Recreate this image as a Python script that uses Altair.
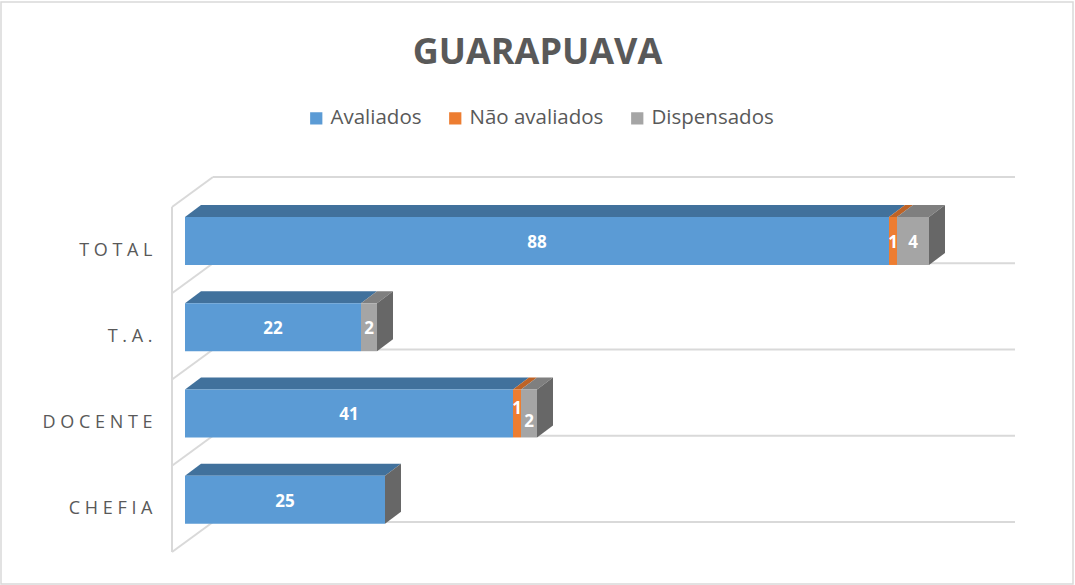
import json
import pandas as pd
import altair as alt

# ---- data ----
categories = ["TOTAL", "T.A.", "DOCENTE", "CHEFIA"]
series = ["Avaliados", "Não avaliados", "Dispensados"]
avaliados = [88, 22, 41, 25]
nao_avaliados = [1, 0, 1, 0]
dispensados = [4, 2, 2, 0]

# ---- styles ----
front_colors = ["#5B9BD5", "#ED7D31", "#A5A5A5"]
top_colors = ["#41719C", "#BE6326", "#7F7F7F"]
side_color = "#676767"
grid_color = "#D9D9D9"
text_color = "#595959"
FONT = "Open Sans"

# 3D geometry (in scale units: x = value units, y = category bands)
FRONT_TOP, FRONT_BOT = 0.116, 0.672
DEPTH_X, DEPTH_Y = 2.0, 0.139
WALL_X, WALL_DX, WALL_DY = -1.625, 5.125, 0.348
X_MAX = 103.75
CROWD = 2.0      # label centres closer than this (value units) are staggered
STAGGER = 0.08   # vertical stagger in band units

seg_rows, top_rows, side_rows = [], [], []
for i, cat in enumerate(categories):
    start = 0
    for s, vals in zip(series, [avaliados, nao_avaliados, dispensados]):
        v = vals[i]
        end = start + v
        seg_rows.append(dict(cat=cat, series=s, start=start, end=end,
                             yt=i + FRONT_TOP, yb=i + FRONT_BOT, value=v,
                             mid=(start + end) / 2,
                             ym=i + (FRONT_TOP + FRONT_BOT) / 2, shift=0))
        sid = f"{i}-{s}"
        top_rows.append(dict(seg=sid, series=s, y=i + FRONT_TOP, xl=start, xr=end))
        top_rows.append(dict(seg=sid, series=s, y=i + FRONT_TOP - DEPTH_Y,
                             xl=start + DEPTH_X, xr=end + DEPTH_X))
        start = end
    side_rows.append(dict(cat=cat, x=start, ya=i + FRONT_TOP, yb=i + FRONT_BOT))
    side_rows.append(dict(cat=cat, x=start + DEPTH_X, ya=i + FRONT_TOP - DEPTH_Y,
                          yb=i + FRONT_BOT - DEPTH_Y))

# stagger labels that would touch each other
for cat in categories:
    row = [r for r in seg_rows if r["cat"] == cat and r["value"] > 0]
    for a, b in zip(row, row[1:]):
        if b["mid"] - a["mid"] < CROWD:
            a["shift"], b["shift"] = -1, 1

n = len(categories)
grid_rows = []
for k in range(n + 1):
    grid_rows.append(dict(x=WALL_X + WALL_DX, x2=X_MAX, y=k - WALL_DY, y2=k - WALL_DY))
    grid_rows.append(dict(x=WALL_X, x2=WALL_X + WALL_DX, y=k, y2=k - WALL_DY))
grid_rows.append(dict(x=WALL_X, x2=WALL_X, y=0, y2=n))

segs = pd.DataFrame(seg_rows)
tops = pd.DataFrame(top_rows)
sides = pd.DataFrame(side_rows)
grid = pd.DataFrame(grid_rows)
labels = segs[segs["value"] > 0]

x_scale = alt.Scale(domain=[WALL_X, X_MAX], nice=False, zero=False)
y_scale = alt.Scale(domain=[-WALL_DY, n], nice=False, zero=False, reverse=True)

label_expr = "join(split(" + json.dumps(categories) + "[floor(datum.value)], ''), ' ')"
y_axis = alt.Axis(values=[i + 0.5 for i in range(n)], labelExpr=label_expr,
                  domain=False, ticks=False, grid=False, title=None,
                  labelFont=FONT, labelFontSize=18, labelColor=text_color,
                  labelPadding=20)

border = alt.Chart(alt.Data(values=[{}])).mark_rect(
    filled=False, stroke=grid_color, strokeWidth=1.5
).encode(x=alt.value(-171), x2=alt.value(901), y=alt.value(-175), y2=alt.value(407))

grid_layer = alt.Chart(grid).mark_rule(color=grid_color, strokeWidth=2).encode(
    x=alt.X("x:Q", scale=x_scale, axis=None),
    x2="x2:Q",
    y=alt.Y("y:Q", scale=y_scale, axis=y_axis),
    y2="y2:Q",
)

top_layers = []
for s, c in zip(series, top_colors):
    top_layers.append(
        alt.Chart(tops).transform_filter(alt.datum.series == s)
        .mark_area(orient="horizontal", color=c).encode(
            y=alt.Y("y:Q", scale=y_scale, axis=y_axis),
            x=alt.X("xl:Q", scale=x_scale, axis=None, stack=False),
            x2="xr:Q",
            detail="seg:N",
        )
    )

side_layer = alt.Chart(sides).mark_area(orient="vertical", color=side_color).encode(
    x=alt.X("x:Q", scale=x_scale, axis=None),
    y=alt.Y("ya:Q", scale=y_scale, axis=y_axis, stack=False),
    y2="yb:Q",
    detail="cat:N",
)

front_layer = alt.Chart(segs).mark_rect().encode(
    x=alt.X("start:Q", scale=x_scale, axis=None),
    x2="end:Q",
    y=alt.Y("yt:Q", scale=y_scale, axis=y_axis),
    y2="yb:Q",
    color=alt.Color(
        "series:N",
        scale=alt.Scale(domain=series, range=front_colors),
        legend=alt.Legend(
            orient="none", legendX=134, legendY=-69, direction="horizontal",
            title=None, symbolType="square", symbolSize=150, symbolStrokeWidth=0,
            labelFont=FONT, labelFontSize=20.5, labelColor=text_color,
            columnPadding=23, labelOffset=4, padding=0,
        ),
    ),
)

label_layer = alt.Chart(labels).transform_calculate(
    ylab=f"datum.ym + datum.shift * {STAGGER}"
).mark_text(
    color="white", font=FONT, fontSize=17, fontWeight="bold", baseline="middle", dy=2
).encode(
    x=alt.X("mid:Q", scale=x_scale, axis=None),
    y=alt.Y("ylab:Q", scale=y_scale, axis=y_axis),
    text="value:Q",
)

chart = alt.layer(
    border, grid_layer, *top_layers, side_layer, front_layer, label_layer
).properties(
    width=843,
    height=375,
    padding={"left": 172, "top": 177, "right": 60, "bottom": 33},
    autosize=alt.AutoSizeParams(type="none"),
    background="white",
    title=alt.TitleParams(
        text="GUARAPUAVA", font=FONT, fontSize=36, fontWeight="bold",
        color=text_color, anchor="middle", frame="group", dx=-56, offset=-71,
    ),
).configure_view(stroke=None)

chart.save("out.html", embed_options={"renderer": "svg", "actions": False})
